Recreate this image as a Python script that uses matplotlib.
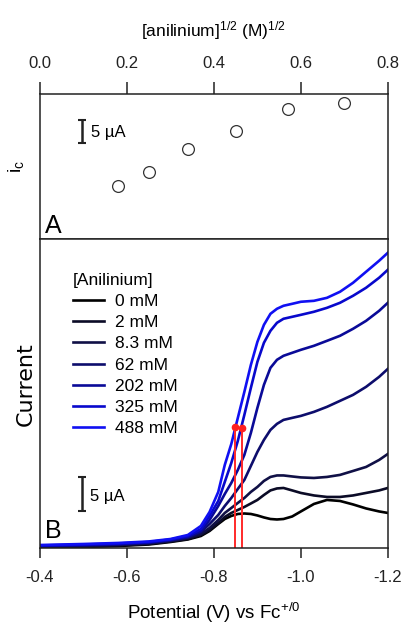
import matplotlib
matplotlib.use("Agg")
import matplotlib.pyplot as plt

plt.rcParams["font.family"] = ["Liberation Sans", "DejaVu Sans"]
plt.rcParams["mathtext.fontset"] = "custom"
plt.rcParams["mathtext.rm"] = "Liberation Sans"
plt.rcParams["mathtext.it"] = "Liberation Sans:italic"
plt.rcParams["axes.unicode_minus"] = False

# panel A: catalytic current vs sqrt of acid concentration
sqrt_conc = [0.18, 0.25, 0.34, 0.45, 0.57, 0.70]
i_cat = [11.5, 14.6, 19.6, 23.5, 28.3, 29.6]

# panel B: voltammograms (potential in V vs Fc+/0, current in uA)
potential = [-0.40, -0.50, -0.58, -0.65, -0.70, -0.74, -0.77, -0.79, -0.81, -0.825,
             -0.84, -0.855, -0.87, -0.885, -0.90, -0.915, -0.93, -0.945, -0.96, -0.98,
             -1.00, -1.03, -1.06, -1.09, -1.12, -1.15, -1.18, -1.20]
cur_0 = [0.07, 0.15, 0.29, 0.51, 0.88, 1.25, 1.76, 2.50, 3.53, 4.26, 4.71, 5.00, 5.07, 5.00,
         4.78, 4.49, 4.26, 4.19, 4.26, 4.63, 5.37, 6.47, 7.06, 6.91, 6.40, 5.81, 5.37, 5.15]
cur_2 = [0.15, 0.22, 0.37, 0.59, 0.96, 1.32, 1.91, 2.65, 3.68, 4.56, 5.15, 5.59, 6.03, 6.54,
         7.06, 7.79, 8.46, 8.75, 8.82, 8.46, 8.09, 7.72, 7.50, 7.50, 7.72, 8.09, 8.46, 8.82]
cur_8 = [0.15, 0.29, 0.44, 0.66, 1.03, 1.47, 2.06, 2.94, 4.12, 5.15, 5.88, 6.62, 7.35, 8.24,
         8.97, 9.85, 10.44, 10.66, 10.66, 10.51, 10.37, 10.29, 10.44, 10.74, 11.32, 11.91,
         12.94, 13.82]
cur_62 = [0.22, 0.37, 0.51, 0.74, 1.10, 1.54, 2.35, 3.53, 4.85, 6.18, 7.35, 8.68, 10.00,
          12.06, 14.12, 15.88, 17.35, 18.24, 18.82, 19.12, 19.41, 20.00, 20.74, 21.62,
          22.50, 23.68, 25.15, 26.32]
cur_202 = [0.29, 0.44, 0.59, 0.81, 1.18, 1.62, 2.50, 4.12, 6.18, 7.94, 9.56, 11.47, 13.68,
           16.91, 20.59, 23.97, 26.47, 27.65, 28.24, 28.68, 29.12, 29.71, 30.44, 31.18,
           32.21, 33.38, 34.85, 36.03]
cur_325 = [0.37, 0.51, 0.66, 0.88, 1.25, 1.76, 2.79, 4.71, 6.91, 9.71, 12.50, 15.74, 19.56,
           23.53, 27.35, 30.15, 31.91, 33.09, 33.68, 33.97, 34.26, 34.71, 35.29, 36.03,
           37.06, 38.24, 39.71, 40.88]
cur_488 = [0.44, 0.59, 0.74, 0.96, 1.32, 1.91, 3.24, 5.29, 8.24, 12.21, 15.29, 19.12, 22.94,
           26.91, 30.29, 32.79, 34.41, 35.15, 35.59, 35.88, 36.18, 36.32, 36.76, 37.65,
           38.97, 40.59, 42.21, 43.38]
labels = ["0 mM", "2 mM", "8.3 mM", "62 mM", "202 mM", "325 mM", "488 mM"]
colors = ["#000000", "#0b0b26", "#101046", "#0d0d6c", "#0a0a98", "#0808cc", "#1010f2"]

# half-wave markers
e_half = [-0.848, -0.864]
i_half = [17.8, 17.6]

fig = plt.figure(figsize=(4.04, 6.28), dpi=100)
ax_a = fig.add_axes([0.099, 0.6194, 0.861, 0.2309])
ax_b = fig.add_axes([0.099, 0.1274, 0.861, 0.4920])

for ax in (ax_a, ax_b):
    for sp in ax.spines.values():
        sp.set_linewidth(1.1)
        sp.set_color("#222222")
    ax.set_yticks([])

# --- panel A ---
ax_a.plot(sqrt_conc, i_cat, "o", ms=8.5, mfc="white", mec="#333333", mew=0.9)
ax_a.set_xlim(0, 0.8)
ax_a.set_ylim(0, 31.5)
ax_a.set_xticks([0.0, 0.2, 0.4, 0.6, 0.8])
ax_a.xaxis.tick_top()
ax_a.xaxis.set_label_position("top")
ax_a.tick_params(axis="x", direction="out", length=8.5, width=1.1, pad=8,
                 labelsize=12, colors="#222222")
ax_a.set_xlabel(r"[anilinium]$^{1/2}$ (M)$^{1/2}$", fontsize=12.5, labelpad=14)
ax_a.set_ylabel(r"i$_\mathregular{c}$", fontsize=14)
ax_a.yaxis.set_label_coords(-0.04, 0.5)
ax_a.errorbar([0.097], [23.4], yerr=[2.5], fmt="none", ecolor="#222222",
              elinewidth=1.8, capsize=3, capthick=1.5)
ax_a.text(0.118, 23.1, "5 µA", fontsize=12, va="center", ha="left")
ax_a.text(0.012, 0.3, "A", fontsize=18, va="bottom", ha="left")

# --- panel B ---
curves = [cur_0, cur_2, cur_8, cur_62, cur_202, cur_325, cur_488]
for cur, lab, col in zip(curves, labels, colors):
    ax_b.plot(potential, cur, color=col, lw=1.9, label=lab)
for e, i in zip(e_half, i_half):
    ax_b.plot([e, e], [0, i], color="#ff2a2a", lw=1.4)
ax_b.plot(e_half, i_half, "o", color="#ff2020", ms=4.5)

ax_b.set_xlim(-0.4, -1.2)
ax_b.set_ylim(0, 45.4)
ax_b.set_xticks([-0.4, -0.6, -0.8, -1.0, -1.2])
ax_b.tick_params(axis="x", direction="out", length=7.5, width=1.1, pad=8,
                 labelsize=12, colors="#222222")
ax_b.set_xlabel(r"Potential (V) vs Fc$^{+/0}$", fontsize=13.5, labelpad=12)
ax_b.set_ylabel("Current", fontsize=16, family=["DejaVu Sans"])
ax_b.yaxis.set_label_coords(-0.012, 0.53)
ax_b.errorbar([-0.497], [7.94], yerr=[2.5], fmt="none", ecolor="#222222",
              elinewidth=1.8, capsize=3, capthick=1.5)
ax_b.text(-0.515, 7.6, "5 µA", fontsize=12, va="center", ha="left")
ax_b.text(-0.411, 0.7, "B", fontsize=18, va="bottom", ha="left")

leg = ax_b.legend(title="[Anilinium]", loc="upper left", bbox_to_anchor=(0.06, 0.93),
                  frameon=False, fontsize=12.5, title_fontsize=12.5, handlelength=1.8,
                  handletextpad=0.6, labelspacing=0.35, borderpad=0.2,
                  alignment="left")

fig.savefig("out.png", dpi=100)
